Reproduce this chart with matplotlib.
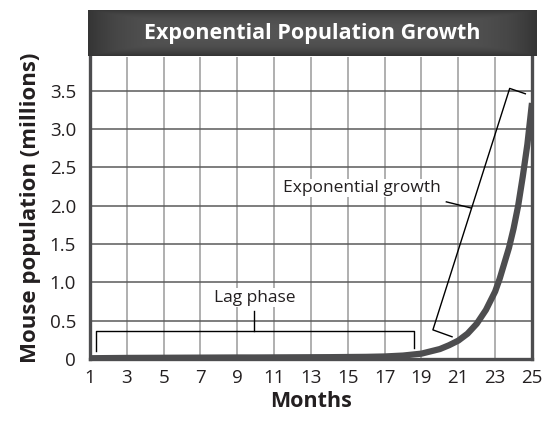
import numpy as np
import matplotlib.pyplot as plt

# Data
months = [1, 2, 3, 4, 5, 6, 7, 8, 9, 10, 11, 12, 13, 14, 15, 16, 17, 18,
          19, 19.5, 20, 20.5, 21, 21.5, 22, 22.5, 23, 23.25, 23.5, 23.75,
          24, 24.25, 24.5, 24.75, 25]
population = [0.01, 0.012, 0.014, 0.015, 0.016, 0.017, 0.018, 0.019, 0.02,
              0.02, 0.021, 0.022, 0.023, 0.024, 0.026, 0.028, 0.033, 0.045,
              0.07, 0.10, 0.13, 0.18, 0.24, 0.33, 0.46, 0.64, 0.88, 1.05,
              1.25, 1.45, 1.70, 2.0, 2.38, 2.8, 3.34]
x_ticks = list(range(1, 26, 2))
y_ticks = [0, 0.5, 1.0, 1.5, 2.0, 2.5, 3.0, 3.5]
y_tick_labels = ['0', '0.5', '1.0', '1.5', '2.0', '2.5', '3.0', '3.5']

plt.rcParams['font.family'] = ['Open Sans', 'DejaVu Sans']

text_color = '#231f20'
curve_color = '#4d4d4f'

fig = plt.figure(figsize=(5.45, 4.23), dpi=100)
ax = fig.add_axes([0.1651, 0.1513, 0.811, 0.714])

ax.plot(months, population, color=curve_color, lw=4.5, solid_capstyle='butt',
        solid_joinstyle='round', zorder=4)

ax.set_xlim(1, 25)
ax.set_ylim(0, 3.94)
ax.set_xticks(x_ticks)
ax.set_yticks(y_ticks)
ax.set_yticklabels(y_tick_labels)
ax.tick_params(length=0, labelsize=13.5, colors=text_color)
ax.tick_params(axis='y', pad=10)
ax.tick_params(axis='x', pad=7)

# grid
for xv in x_ticks[1:-1]:
    ax.axvline(xv, color='#9a9a9a', lw=1.1, zorder=1)
for yv in y_ticks[1:]:
    ax.axhline(yv, color='#5a5a5a', lw=1.1, zorder=1)

for side in ['left', 'bottom', 'right']:
    ax.spines[side].set_color(curve_color)
    ax.spines[side].set_linewidth(2.4)
ax.spines['top'].set_visible(False)

ax.set_xlabel('Months', fontsize=15.5, fontweight='bold', color=text_color, labelpad=3)
ax.set_ylabel('Mouse population (millions)', fontsize=16, fontweight='bold',
              color=text_color, labelpad=6)

# Lag phase bracket
ax.plot([1.33, 1.33, 18.6, 18.6], [0.1, 0.36, 0.36, 0.14], color='black', lw=1, zorder=3)
ax.plot([9.93, 9.93], [0.36, 0.62], color='black', lw=1, zorder=3)
ax.text(9.93, 0.8, 'Lag phase', ha='center', va='center', fontsize=12.5,
        color=text_color, zorder=5,
        bbox=dict(facecolor='white', edgecolor='none', pad=1))

# Exponential growth bracket
ax.plot([20.66, 19.62, 23.79, 24.64], [0.29, 0.38, 3.53, 3.46], color='black', lw=1, zorder=3)
ax.plot([20.35, 21.69], [2.05, 1.97], color='black', lw=1, zorder=3)
ax.text(15.75, 2.23, 'Exponential growth', ha='center', va='center', fontsize=12.5,
        color=text_color, zorder=5,
        bbox=dict(facecolor='white', edgecolor='none', pad=1))

# Title bar with a soft gradient
bar = fig.add_axes([0.161, 0.867, 0.823, 0.109])
gx = np.linspace(-1, 1, 200)
gy = np.linspace(-1, 1, 40)
GX, GY = np.meshgrid(gx, gy)
shade = 0.33 - 0.12 * np.maximum(np.abs(GX) ** 6, np.abs(GY) ** 3)
bar.imshow(shade, cmap='gray', vmin=0, vmax=1, aspect='auto',
           extent=[0, 1, 0, 1], interpolation='bicubic')
bar.set_xlim(0, 1)
bar.set_ylim(0, 1)
bar.axis('off')
bar.text(0.5, 0.5, 'Exponential Population Growth', ha='center', va='center',
         fontsize=15.5, fontweight='bold', color='white')

fig.savefig('out.png', dpi=100)
